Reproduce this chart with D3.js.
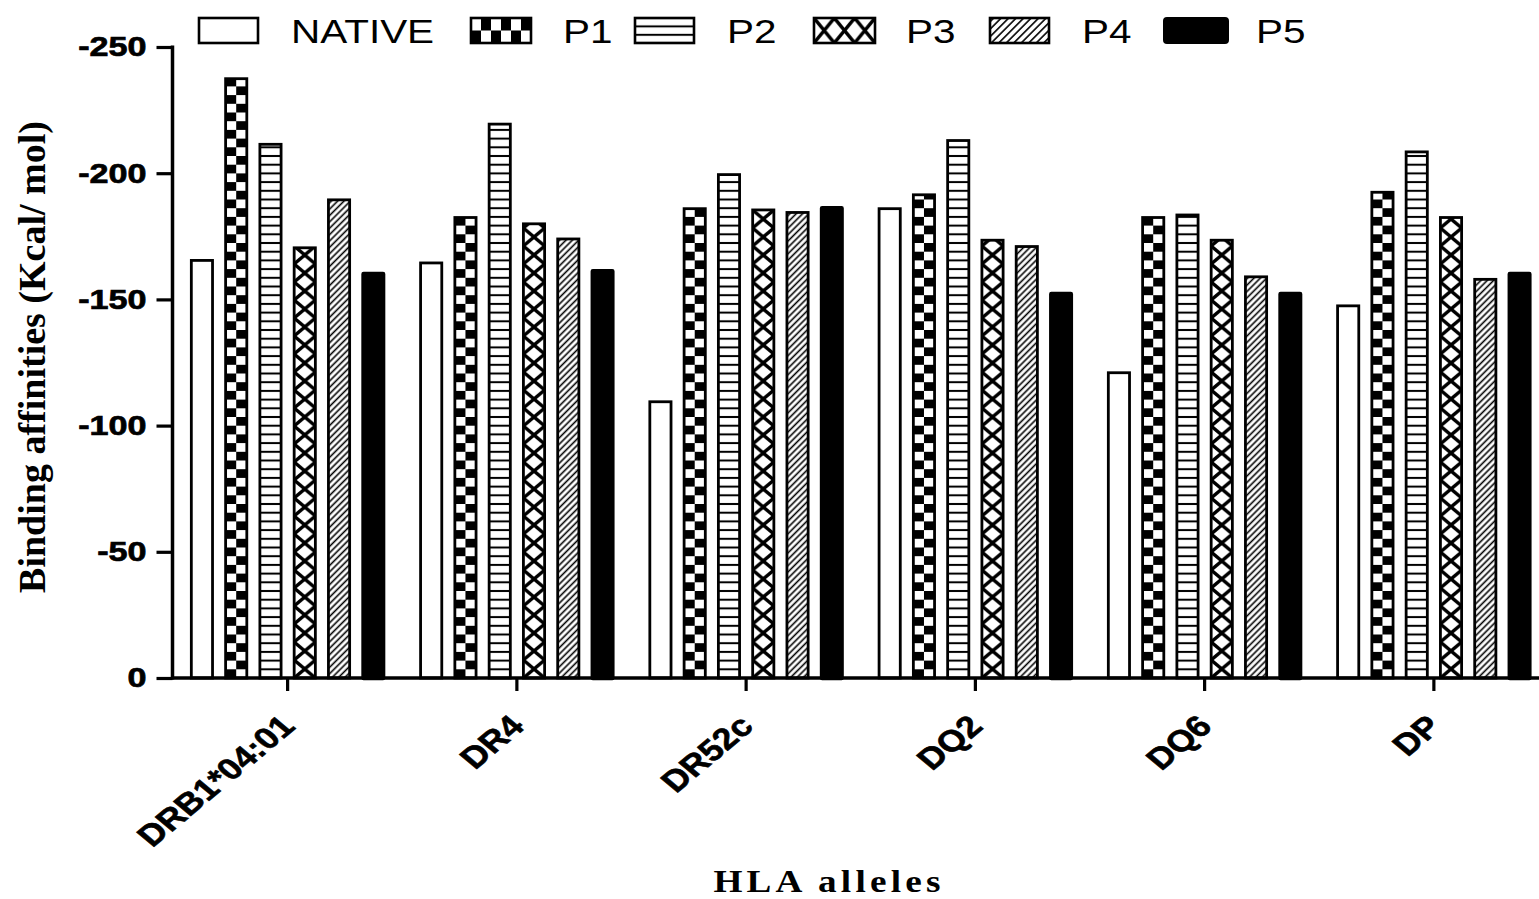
<!DOCTYPE html>
<html>
<head>
<meta charset="utf-8">
<script src="https://cdn.jsdelivr.net/npm/d3@7"></script>
<style>
  html, body { margin: 0; padding: 0; background: #fff; }
  svg { display: block; }
</style>
</head>
<body>
<script>
// ---------------- DATA ----------------
const categories = ["DRB1*04:01", "DR4", "DR52c", "DQ2", "DQ6", "DP"];
const seriesNames = ["NATIVE", "P1", "P2", "P3", "P4", "P5"];
const nativeValues = [-166, -165, -110, -186.5, -121.5, -148];
const p1Values = [-238, -183, -186.5, -192, -183, -193];
const p2Values = [-212, -220, -200, -213.5, -184, -209];
const p3Values = [-171, -180.5, -186, -174, -174, -183];
const p4Values = [-190, -174.5, -185, -171.5, -159.5, -158.5];
const p5Values = [-161, -162, -187, -153, -153, -161];
const yTickValues = [0, -50, -100, -150, -200, -250];
const yTitle = "Binding affinities (Kcal/ mol)";
const xTitle = "HLA alleles";

// ---------------- SETUP ----------------
const W = 1539, H = 899;
const seriesValues = [nativeValues, p1Values, p2Values, p3Values, p4Values, p5Values];
const fillTypes = ["none", "checker", "hlines", "cross", "diag", "solid"];
const SANS = "'Liberation Sans', Arial, sans-serif";
const SERIF = "'Liberation Serif', 'Times New Roman', serif";
const STRETCH = 1.2;

const svg = d3.select("body").append("svg")
  .attr("width", W).attr("height", H)
  .attr("viewBox", `0 0 ${W} ${H}`);
svg.append("rect").attr("width", W).attr("height", H).attr("fill", "#fff");
const defs = svg.append("defs");

const y = d3.scaleLinear().domain([0, -250]).range([678, 47]);
const x0 = d3.scaleBand().domain(categories).range([173, 1548.5]);
const x1 = d3.scaleBand().domain(seriesNames).range([0, x0.bandwidth()])
  .paddingInner(0.3).paddingOuter(0.494);

// pattern builder
function makePattern(id, type, px, py, opts) {
  const p = defs.append("pattern").attr("id", id)
    .attr("patternUnits", "userSpaceOnUse");
  if (type === "checker") {
    const cw = opts.cw, ch = opts.ch;
    p.attr("x", px).attr("y", py).attr("width", cw * 2).attr("height", ch * 2);
    p.append("rect").attr("width", cw * 2).attr("height", ch * 2).attr("fill", "#fff");
    p.append("rect").attr("x", cw).attr("y", 0).attr("width", cw).attr("height", ch).attr("fill", "#000");
    p.append("rect").attr("x", 0).attr("y", ch).attr("width", cw).attr("height", ch).attr("fill", "#000");
  } else if (type === "hlines") {
    const s = opts.s;
    p.attr("x", px).attr("y", py).attr("width", 50).attr("height", s);
    p.append("rect").attr("width", 50).attr("height", s).attr("fill", "#fff");
    p.append("rect").attr("x", 0).attr("y", -1).attr("width", 50).attr("height", 2).attr("fill", "#000");
    p.append("rect").attr("x", 0).attr("y", s - 1).attr("width", 50).attr("height", 2).attr("fill", "#000");
  } else if (type === "cross") {
    const tw = opts.tw, th = opts.th;
    p.attr("x", px).attr("y", py).attr("width", tw).attr("height", th);
    p.append("rect").attr("width", tw).attr("height", th).attr("fill", "#fff");
    const ext = 3;
    const dx = tw / th * ext;
    p.append("line").attr("x1", -dx).attr("y1", -ext).attr("x2", tw + dx).attr("y2", th + ext)
      .attr("stroke", "#000").attr("stroke-width", opts.sw);
    p.append("line").attr("x1", tw + dx).attr("y1", -ext).attr("x2", -dx).attr("y2", th + ext)
      .attr("stroke", "#000").attr("stroke-width", opts.sw);
  } else if (type === "diag") {
    const s = opts.s;
    p.attr("x", px).attr("y", py).attr("width", s).attr("height", 10)
      .attr("patternTransform", `rotate(45 ${px} ${py})`);
    p.append("rect").attr("width", s).attr("height", 10).attr("fill", "#fff");
    p.append("line").attr("x1", s / 2).attr("y1", -1).attr("x2", s / 2).attr("y2", 11)
      .attr("stroke", "#000").attr("stroke-width", 1.6);
  }
  return `url(#${id})`;
}

function fillFor(type, id, px, py, w, legend) {
  if (type === "none") return "#fff";
  if (type === "solid") return "#000";
  if (type === "checker") return makePattern(id, type, px, py, legend ? {cw: 10, ch: 12.5} : {cw: w / 2, ch: 8.7});
  if (type === "hlines") return makePattern(id, type, px, py, legend ? {s: 8.4} : {s: 8.7});
  if (type === "cross") return makePattern(id, type, px, py, legend ? {tw: w / 3, th: 25, sw: 3.4} : {tw: w, th: 18, sw: 3.4});
  if (type === "diag") return makePattern(id, type, px, py, {s: legend ? 5.3 : 4.5});
  return "#fff";
}

// ---------------- BARS ----------------
const barData = [];
seriesNames.forEach((s, si) => {
  categories.forEach((c, ci) => {
    barData.push({s, si, c, ci, v: seriesValues[si][ci]});
  });
});

const bw = x1.bandwidth();
const barsG = svg.append("g");
barsG.selectAll("rect.bar").data(barData).join("rect")
  .attr("class", "bar")
  .each(function(d) {
    const sw = fillTypes[d.si] === "solid" ? 4.5 : 2.8;
    const bx = x0(d.c) + x1(d.s);
    const rx = bx + sw / 2;
    const rw = bw - sw;
    const top = y(d.v) + sw / 2;
    const fill = fillFor(fillTypes[d.si], `pb-${d.si}-${d.ci}`, rx, y(0), rw, false);
    d3.select(this)
      .attr("x", rx).attr("width", rw)
      .attr("y", top).attr("height", y(0) - top)
      .attr("fill", fill)
      .attr("stroke", "#000").attr("stroke-width", sw)
      .attr("stroke-linejoin", fillTypes[d.si] === "solid" ? "round" : "miter");
  });

// ---------------- AXES ----------------
const axisX = 172.5;
const yAxisG = svg.append("g").attr("transform", `translate(${axisX},0)`)
  .call(d3.axisLeft(y).tickValues(yTickValues).tickSize(16).tickSizeOuter(0)
    .tickFormat(d => String(d)));
yAxisG.select(".domain").remove();
yAxisG.selectAll(".tick line").attr("stroke", "#000").attr("stroke-width", 3.2);
yAxisG.selectAll(".tick text")
  .attr("x", 0)
  .attr("transform", `translate(-26,0) scale(1.22,1)`)
  .attr("fill", "#000")
  .attr("stroke", "#000").attr("stroke-width", 0.7)
  .style("font-family", SANS).style("font-weight", "bold").style("font-size", "28px");
svg.append("line").attr("x1", axisX).attr("x2", axisX).attr("y1", y(-250) - 1.5).attr("y2", y(0) + 1.5)
  .attr("stroke", "#000").attr("stroke-width", 3.5);

const xAxisG = svg.append("g").attr("transform", `translate(0,${y(0)})`)
  .call(d3.axisBottom(x0).tickSize(13).tickSizeOuter(0).tickFormat(""));
xAxisG.select(".domain").remove();
xAxisG.selectAll(".tick line").attr("stroke", "#000").attr("stroke-width", 3.2);
svg.append("line").attr("x1", axisX - 1.5).attr("x2", W).attr("y1", y(0)).attr("y2", y(0))
  .attr("stroke", "#000").attr("stroke-width", 3.5);

svg.append("g").selectAll("text").data(categories).join("text")
  .attr("transform", d => `translate(${x0(d) + x0.bandwidth() / 2 + 9},${y(0) + 50}) scale(${STRETCH},1) rotate(-45)`)
  .attr("text-anchor", "end")
  .style("font-family", SANS).style("font-weight", "bold").style("font-size", "30px")
  .attr("fill", "#000")
  .attr("stroke", "#000").attr("stroke-width", 0.6)
  .text(d => d);

// titles
svg.append("text")
  .attr("transform", `translate(45,357) rotate(-90)`)
  .attr("text-anchor", "middle")
  .style("font-family", SERIF).style("font-weight", "bold").style("font-size", "38px")
  .attr("fill", "#000")
  .text(yTitle);

svg.append("text")
  .attr("transform", `translate(829,892) scale(${STRETCH},1)`)
  .attr("text-anchor", "middle")
  .style("font-family", SERIF).style("font-weight", "bold").style("font-size", "31px")
  .style("letter-spacing", "3.5px")
  .attr("fill", "#000")
  .text(xTitle);

// ---------------- LEGEND ----------------
const legendBoxX = [199, 471, 635, 814, 990, 1164];
const legendBoxW = [59, 60, 59, 61, 59, 64];
const legG = svg.append("g");
seriesNames.forEach((s, si) => {
  const bx = legendBoxX[si], bwid = legendBoxW[si];
  const t = fillTypes[si];
  const sw = t === "solid" ? 2 : 2.6;
  const fill = fillFor(t, `pl-${si}`, bx, 18, bwid, true);
  legG.append("rect")
    .attr("x", bx).attr("y", 18).attr("width", bwid).attr("height", 25)
    .attr("rx", t === "solid" ? 3 : 0)
    .attr("fill", fill).attr("stroke", "#000").attr("stroke-width", sw);
  legG.append("text")
    .attr("transform", `translate(${bx + 92},43) scale(1.19,1)`)
    .style("font-family", SANS).style("font-size", "34px")
    .attr("fill", "#000")
    .text(s);
});
</script>
</body>
</html>
